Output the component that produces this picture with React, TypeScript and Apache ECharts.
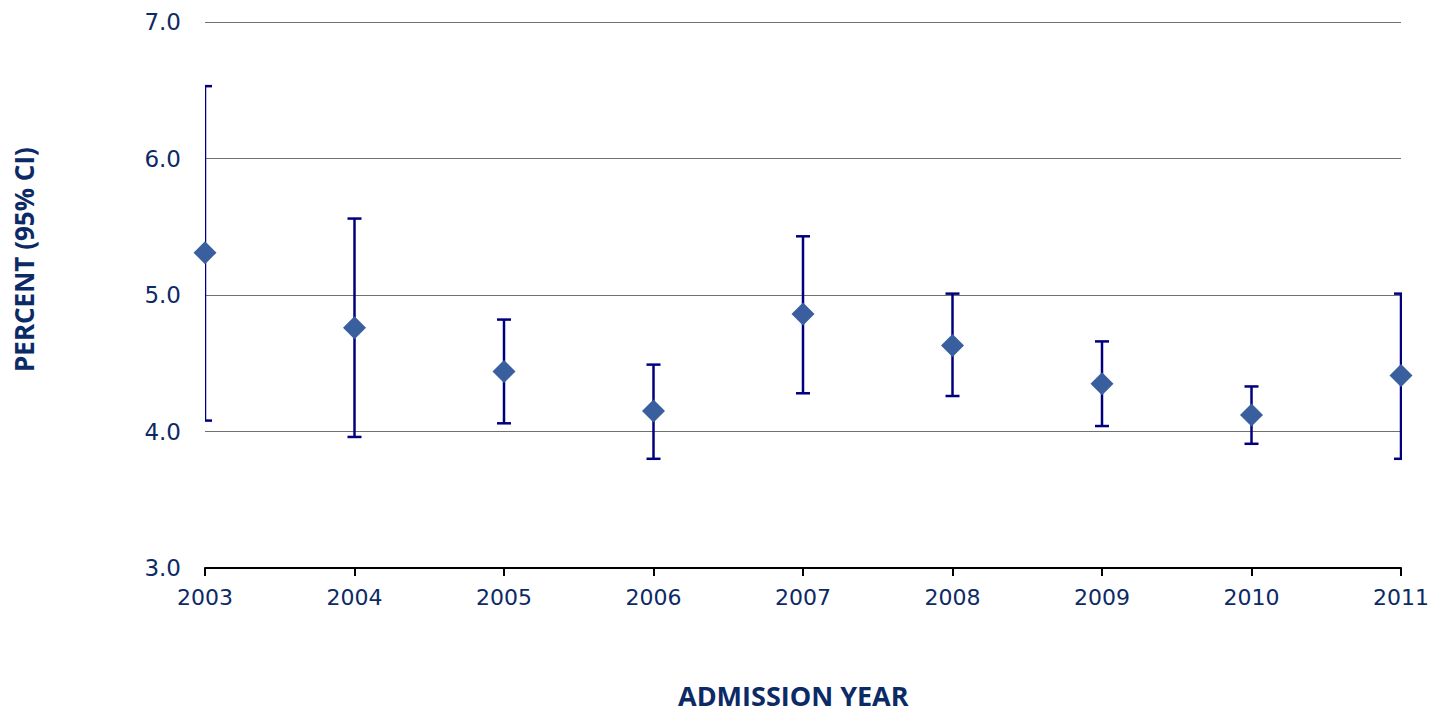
import React, { useEffect, useRef } from "react";
import * as echarts from "echarts";

const years = ["2003", "2004", "2005", "2006", "2007", "2008", "2009", "2010", "2011"];
const percent = [5.31, 4.76, 4.44, 4.15, 4.86, 4.63, 4.35, 4.12, 4.41];
const ciLower = [4.08, 3.96, 4.06, 3.80, 4.28, 4.26, 4.04, 3.91, 3.80];
const ciUpper = [6.53, 5.56, 4.82, 4.49, 5.43, 5.01, 4.66, 4.33, 5.01];

const navy = "#0C2A66";

export default function App() {
  const ref = useRef<HTMLDivElement>(null);
  useEffect(() => {
    const chart = echarts.init(ref.current!, null, { renderer: "svg" });
    const errData = years.map((y, i) => [i, ciLower[i], ciUpper[i]]);
    chart.setOption({
      animation: false,
      grid: { left: 205, right: 30, top: 22, bottom: 145 },
      xAxis: {
        type: "category",
        data: years,
        boundaryGap: false,
        axisLine: { lineStyle: { color: "#000", width: 2 } },
        axisTick: { alignWithLabel: true, length: 8, lineStyle: { color: "#000", width: 2 } },
        axisLabel: { color: navy, fontSize: 22, fontFamily: "DejaVu Sans", margin: 18 },
        splitLine: { show: false },
      },
      yAxis: {
        type: "value",
        min: 3,
        max: 7,
        interval: 1,
        axisLine: { show: false },
        axisTick: { show: false },
        axisLabel: {
          color: navy,
          fontSize: 23,
          fontFamily: "DejaVu Sans",
          margin: 24,
          formatter: (v: number) => v.toFixed(1),
        },
        splitLine: { lineStyle: { color: "#707070", width: 1 } },
      },
      graphic: [
        {
          type: "text",
          left: 678,
          top: 682,
          style: { text: "ADMISSION YEAR", fill: navy, font: "bold 27px 'Open Sans'" },
        },
        {
          type: "text",
          x: 11,
          y: 372,
          rotation: Math.PI / 2,
          style: { text: "PERCENT (95% CI)", fill: navy, font: "bold 26px 'Open Sans'" },
        },
      ],
      series: [
        {
          type: "custom",
          clip: true,
          data: errData,
          encode: { x: 0, y: [1, 2] },
          renderItem: (params: any, api: any) => {
            const x = api.value(0);
            const lo = api.coord([x, api.value(1)]);
            const hi = api.coord([x, api.value(2)]);
            const hw = 7;
            const style = { stroke: "#00007F", lineWidth: 2.5 };
            return {
              type: "group",
              children: [
                { type: "line", shape: { x1: lo[0], y1: lo[1], x2: hi[0], y2: hi[1] }, style },
                { type: "line", shape: { x1: lo[0] - hw, y1: lo[1], x2: lo[0] + hw, y2: lo[1] }, style },
                { type: "line", shape: { x1: hi[0] - hw, y1: hi[1], x2: hi[0] + hw, y2: hi[1] }, style },
              ],
            };
          },
          z: 2,
        },
        {
          type: "scatter",
          data: percent,
          symbol: "diamond",
          symbolSize: [23, 23],
          itemStyle: { color: "#3A5F9E", opacity: 1 },
          z: 3,
        },
      ],
    });
    return () => chart.dispose();
  }, []);
  return <div ref={ref} style={{ width: 1432, height: 713, position: "absolute", left: 0, top: 0 }} />;
}
